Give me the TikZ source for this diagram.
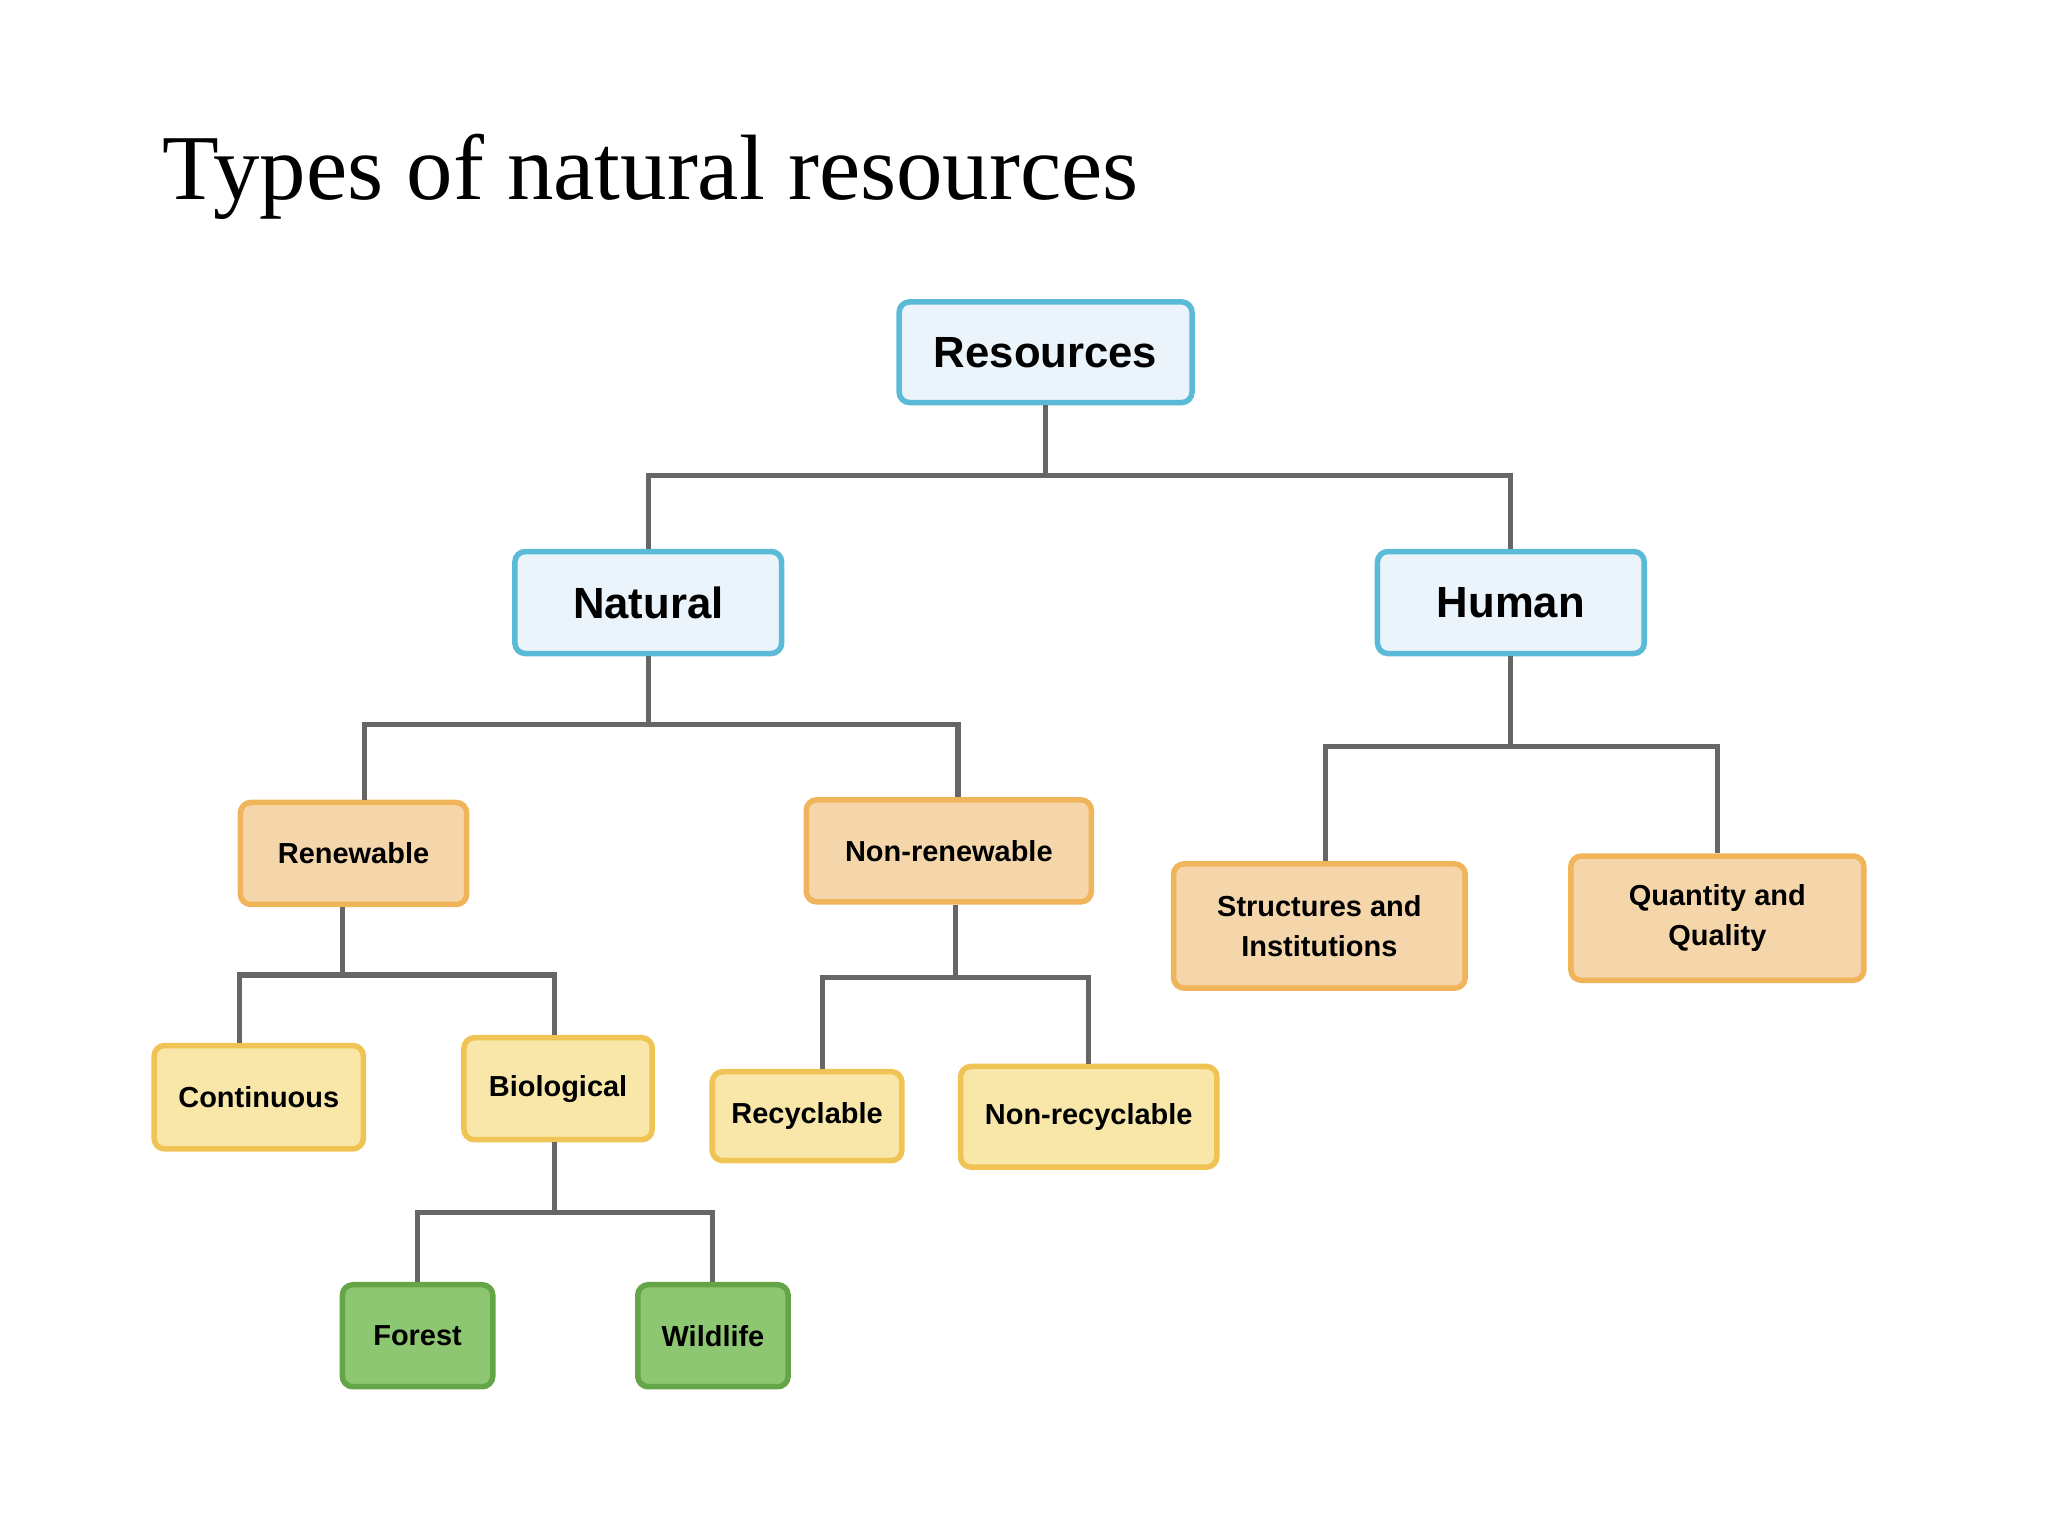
\documentclass[tikz,border=0pt]{standalone}
\usepackage{fontspec}
\setmainfont{Liberation Serif}
\newfontfamily\boxfont{Liberation Sans}
\definecolor{bfill}{HTML}{EAF4FA}\definecolor{bline}{HTML}{5BBAD8}
\definecolor{ofill}{HTML}{F5D6AA}\definecolor{oline}{HTML}{F0B45A}
\definecolor{yfill}{HTML}{F8E7A8}\definecolor{yline}{HTML}{EFC455}
\definecolor{gfill}{HTML}{8DC772}\definecolor{gline}{HTML}{64A548}
\definecolor{cline}{HTML}{666666}
\tikzset{
 bx/.style={rounded corners=0.08cm,line width=1.2pt,align=center,inner sep=0pt,font=\boxfont\bfseries\fontsize{6.3}{8.8}\selectfont},
 blue/.style={bx,fill=bfill,draw=bline,font=\boxfont\bfseries\fontsize{9.5}{11}\selectfont},
 orng/.style={bx,fill=ofill,draw=oline},
 yell/.style={bx,fill=yfill,draw=yline},
 grn/.style={bx,fill=gfill,draw=gline},
 conn/.style={draw=cline,line width=1.1pt}
}
\begin{document}
\begin{tikzpicture}[x=0.01cm,y=-0.01cm]
\useasboundingbox (0,0) rectangle (1567,1175);
\node[anchor=west,inner sep=0pt,font=\fontsize{20.2}{24}\selectfont] (title) at (124,135) {Types of natural resources};
\node[blue,minimum width=2.24cm,minimum height=0.77cm] (res) at (800,269.5) {Resources};
\node[blue,minimum width=2.04cm,minimum height=0.78cm] (nat) at (496,461) {Natural};
\node[blue,minimum width=2.04cm,minimum height=0.78cm] (hum) at (1156,461) {Human};
\node[orng,minimum width=1.73cm,minimum height=0.78cm] (ren) at (270.5,653) {Renewable};
\node[orng,minimum width=2.18cm,minimum height=0.78cm] (nren) at (726,651) {Non-renewable};
\node[orng,minimum width=2.23cm,minimum height=0.95cm] (str) at (1009.5,708.5) {Structures and\\Institutions};
\node[orng,minimum width=2.24cm,minimum height=0.95cm] (qua) at (1314,702.5) {Quantity and\\Quality};
\node[yell,minimum width=1.60cm,minimum height=0.79cm] (con) at (198,839.5) {Continuous};
\node[yell,minimum width=1.44cm,minimum height=0.78cm] (bio) at (427,833) {Biological};
\node[yell,minimum width=1.45cm,minimum height=0.68cm] (rec) at (617.5,854) {Recyclable};
\node[yell,minimum width=1.96cm,minimum height=0.77cm] (nrec) at (833,854.5) {Non-recyclable};
\node[grn,minimum width=1.15cm,minimum height=0.78cm] (for) at (319.5,1022) {Forest};
\node[grn,minimum width=1.15cm,minimum height=0.78cm] (wil) at (545.5,1022) {Wildlife};
\draw[conn] (res.south) -- (res.south|-0,364) -| (nat.north);
\draw[conn] (res.south) -- (res.south|-0,364) -| (hum.north);
\draw[conn] (nat.south) -- (nat.south|-0,554) -| ([xshift=0.085cm]ren.north);
\draw[conn] (nat.south) -- (nat.south|-0,554) -| ([xshift=0.07cm]nren.north);
\draw[conn] (hum.south) -- (hum.south|-0,571) -| ([xshift=0.045cm]str.north);
\draw[conn] (hum.south) -- (hum.south|-0,571) -| (qua.north);
\draw[conn] ([xshift=-0.085cm]ren.south) -- ([xshift=-0.085cm]ren.south|-0,746) -| ([xshift=-0.15cm]con.north);
\draw[conn] ([xshift=-0.085cm]ren.south) -- ([xshift=-0.085cm]ren.south|-0,746) -| ([xshift=-0.03cm]bio.north);
\draw[conn] ([xshift=0.05cm]nren.south) -- ([xshift=0.05cm]nren.south|-0,748) -| ([xshift=0.115cm]rec.north);
\draw[conn] ([xshift=0.05cm]nren.south) -- ([xshift=0.05cm]nren.south|-0,748) -| (nrec.north);
\draw[conn] ([xshift=-0.03cm]bio.south) -- ([xshift=-0.03cm]bio.south|-0,928) -| (for.north);
\draw[conn] ([xshift=-0.03cm]bio.south) -- ([xshift=-0.03cm]bio.south|-0,928) -| (wil.north);
\end{tikzpicture}
\end{document}
